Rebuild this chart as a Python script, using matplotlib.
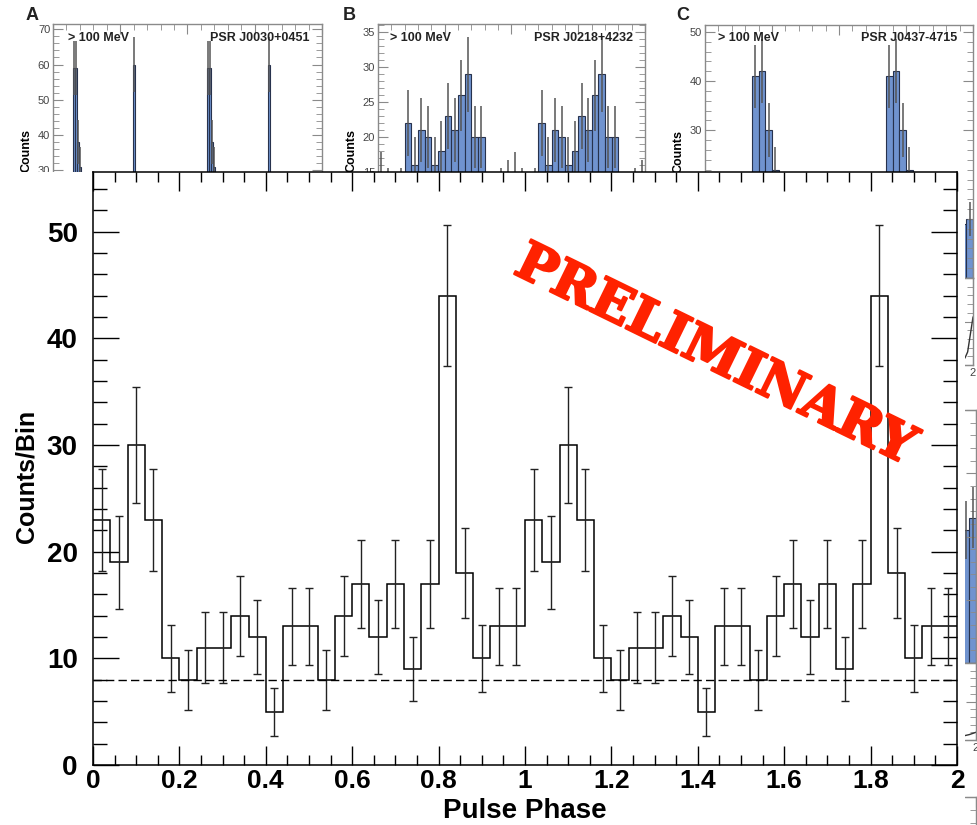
import numpy as np
import matplotlib
matplotlib.use('Agg')
import matplotlib.pyplot as plt
import matplotlib.patheffects as pe
from matplotlib.ticker import MultipleLocator, FixedLocator
from matplotlib.patches import Rectangle

# ---- main pulse profile (one rotation, shown twice) ----
phase_counts = [23, 19, 30, 23, 10, 8, 11, 11, 14, 12, 5, 13, 13,
                8, 14, 17, 12, 17, 9, 17, 44, 18, 10, 13, 13]
background_level = 8
x_ticks = [0, 0.2, 0.4, 0.6, 0.8, 1, 1.2, 1.4, 1.6, 1.8, 2]
y_ticks = [0, 10, 20, 30, 40, 50]

# ---- background panels (partly hidden) ----
# panel A: PSR J0030+0451, visible bins only
a_left = [0.145, 0.160, 0.175, 0.190, 0.595]
a_counts = [59, 59, 38, 31, 60]
a_width = 0.015
a_yticks = [30, 40, 50, 60, 70]
# panel B: PSR J0218+4232, 0.05 bins over one rotation
b_counts = [14, 12, 11, 12, 22, 16, 21, 20, 16, 18, 23, 21, 26, 29, 20, 20,
            11, 10, 12, 13]
b_yticks = [15, 20, 25, 30, 35]
# panel C: PSR J0437-4715, 0.05 bins over one rotation
c_counts = [10, 9, 11, 8, 10, 9, 12, 41, 42, 30, 22, 14, 10, 9, 11, 10,
            8, 9, 11, 12]
c_yticks = [30, 40, 50]
c_radio_phase = [1.80, 1.90, 1.94, 1.96, 1.98, 2.00]
c_radio_level = [0.05, 0.06, 0.08, 0.15, 0.35, 0.55]
# panel below C (right column, second row)
e_counts = [9, 10, 12, 11, 10, 9, 8, 10, 11, 12, 9, 10, 11, 10, 9, 10,
            11, 12, 21, 23]
e_radio_phase = [1.80, 1.90, 1.95, 2.00]
e_radio_level = [0.05, 0.05, 0.07, 0.10]

W, H = 978, 825
fig = plt.figure(figsize=(W / 100, H / 100), dpi=100)
plt.rcParams['font.family'] = ['Liberation Sans', 'DejaVu Sans']

BLUE = '#7093cf'
NAVY = '#27324d'
GRAY = '#8a8a8a'


def px_box(x0, y0, x1, y1):
    return [x0 / W, 1 - y1 / H, (x1 - x0) / W, (y1 - y0) / H]


def bg_panel(rect, ymax, ymajor, yminor, ylab=True, xlab=False):
    a = fig.add_axes(px_box(*rect))
    a.set_xlim(0, 2)
    a.set_ylim(0, ymax)
    for s in a.spines.values():
        s.set_color(GRAY)
        s.set_linewidth(1.0)
    a.xaxis.set_major_locator(MultipleLocator(0.5))
    a.xaxis.set_minor_locator(MultipleLocator(0.1))
    if isinstance(ymajor, list):
        a.yaxis.set_major_locator(FixedLocator(ymajor))
    else:
        a.yaxis.set_major_locator(MultipleLocator(ymajor))
    a.yaxis.set_minor_locator(MultipleLocator(yminor))
    a.tick_params(which='both', direction='in', top=True, right=True,
                  colors=GRAY, labelcolor='#444444', labelsize=8, pad=2)
    a.tick_params(which='major', length=7)
    a.tick_params(which='minor', length=4)
    if not ylab:
        a.set_yticklabels([])
    if xlab:
        a.set_xticks([0, 0.5, 1, 1.5, 2], labels=['0', '0.5', '1', '1.5', '2'])
    else:
        a.set_xticklabels([])
    return a


def gamma_hist(a, left, counts, width):
    a.bar(left, counts, width=width, align='edge', color=BLUE,
          edgecolor=NAVY, linewidth=0.8)
    c = np.asarray(left) + width / 2
    e = np.sqrt(counts)
    a.vlines(c, np.asarray(counts) - e, np.asarray(counts) + e,
             color='#555555', lw=1.1)


# panel A
axA = bg_panel((53, 24, 322, 276), 71.5, a_yticks, 2)
gamma_hist(axA, a_left + [v + 1 for v in a_left], a_counts * 2, a_width)
axA.set_ylabel('Counts', fontsize=9, fontweight='bold')

# panel B
axB = bg_panel((378, 24, 645, 276), 36.2, b_yticks, 1)
b_left = np.arange(40) * 0.05
gamma_hist(axB, b_left, b_counts * 2, 0.05)
axB.set_ylabel('Counts', fontsize=9, fontweight='bold')

# panel C (with radio strip below)
axC = bg_panel((705, 25, 973, 278), 51.4, c_yticks, 2)
gamma_hist(axC, b_left, c_counts * 2, 0.05)
axC.set_ylabel('Counts', fontsize=9, fontweight='bold')
axCr = bg_panel((705, 278, 973, 365), 1, 0.5, 0.1, ylab=False, xlab=True)
axCr.plot(c_radio_phase, c_radio_level, color='#333333', lw=1)

# right column, second row
axE = bg_panel((705, 410, 976, 663), 40, 10, 2, ylab=False)
gamma_hist(axE, b_left, e_counts * 2, 0.05)
axEr = bg_panel((705, 663, 976, 740), 1, 0.5, 0.1, ylab=False, xlab=True)
axEr.plot(e_radio_phase, e_radio_level, color='#333333', lw=1)

# right column, third row (only the corner shows)
axF = bg_panel((705, 797, 976, 1060), 40, 10, 2, ylab=False)

for lab, x in [('A', 26), ('B', 343), ('C', 676)]:
    fig.text(x / W, 1 - 7 / H, lab, fontsize=13, fontweight='bold',
             va='top', ha='left', color='#222222')
for x0, x1, psr in [(68, 310, 'PSR J0030+0451'), (390, 633, 'PSR J0218+4232'),
                    (718, 957, 'PSR J0437-4715')]:
    fig.text(x0 / W, 1 - 38 / H, '> 100 MeV', fontsize=9, fontweight='bold',
             va='center', ha='left', color='#222222')
    fig.text(x1 / W, 1 - 38 / H, psr, fontsize=9, fontweight='bold',
             va='center', ha='right', color='#222222')

# white sheet of the main plot, hiding the panels underneath
fig.patches.append(Rectangle((0, 0), 965 / W, (H - 172) / H,
                             transform=fig.transFigure, facecolor='white',
                             edgecolor='none', zorder=1))

# ---- main plot ----
ax = fig.add_axes(px_box(93, 172, 957, 765))
ax.set_zorder(2)
ax.set_facecolor('white')

counts = np.array(phase_counts * 2)
edges = np.linspace(0, 2, len(counts) + 1)
centers = 0.5 * (edges[:-1] + edges[1:])

ax.stairs(counts, edges, color='black', lw=1.1, baseline=None)
ax.errorbar(centers, counts, yerr=np.sqrt(counts), fmt='none',
            ecolor='#222222', elinewidth=1.0, capsize=3, capthick=1.0)
ax.axhline(background_level, color='black', lw=1.0, ls=(0, (6, 3)))

ax.set_xlim(0, 2)
ax.set_ylim(0, 55.6)
for s in ax.spines.values():
    s.set_linewidth(1.1)

ax.xaxis.set_minor_locator(MultipleLocator(0.05))
ax.yaxis.set_minor_locator(MultipleLocator(2))
ax.set_xticks(x_ticks, labels=[f'{v:g}' for v in x_ticks],
              fontweight='bold', fontsize=19)
ax.set_yticks(y_ticks, labels=[str(v) for v in y_ticks],
              fontweight='bold', fontsize=20)
ax.tick_params(which='both', direction='in', top=True, right=True, width=1.0)
ax.tick_params(axis='y', which='major', length=19, pad=11)
ax.tick_params(axis='y', which='minor', length=10)
ax.tick_params(axis='x', which='major', length=13.5, pad=3)
ax.tick_params(axis='x', which='minor', length=7)

ax.set_xlabel('Pulse Phase', fontsize=20, fontweight='bold')
ax.set_ylabel('Counts/Bin', fontsize=18, fontweight='bold')
ax.xaxis.set_label_coords(0.5, -0.056)
ax.yaxis.set_label_coords(-0.063, 0.486)

ax.text(0.72, 0.69, 'PRELIMINARY', transform=ax.transAxes, rotation=-26,
        rotation_mode='anchor', ha='center', va='center', color='#ff2200',
        fontsize=38, fontweight='bold', fontfamily='DejaVu Serif',
        path_effects=[pe.withStroke(linewidth=1.6, foreground='#ff2200')])

fig.savefig('out.png', dpi=100)
